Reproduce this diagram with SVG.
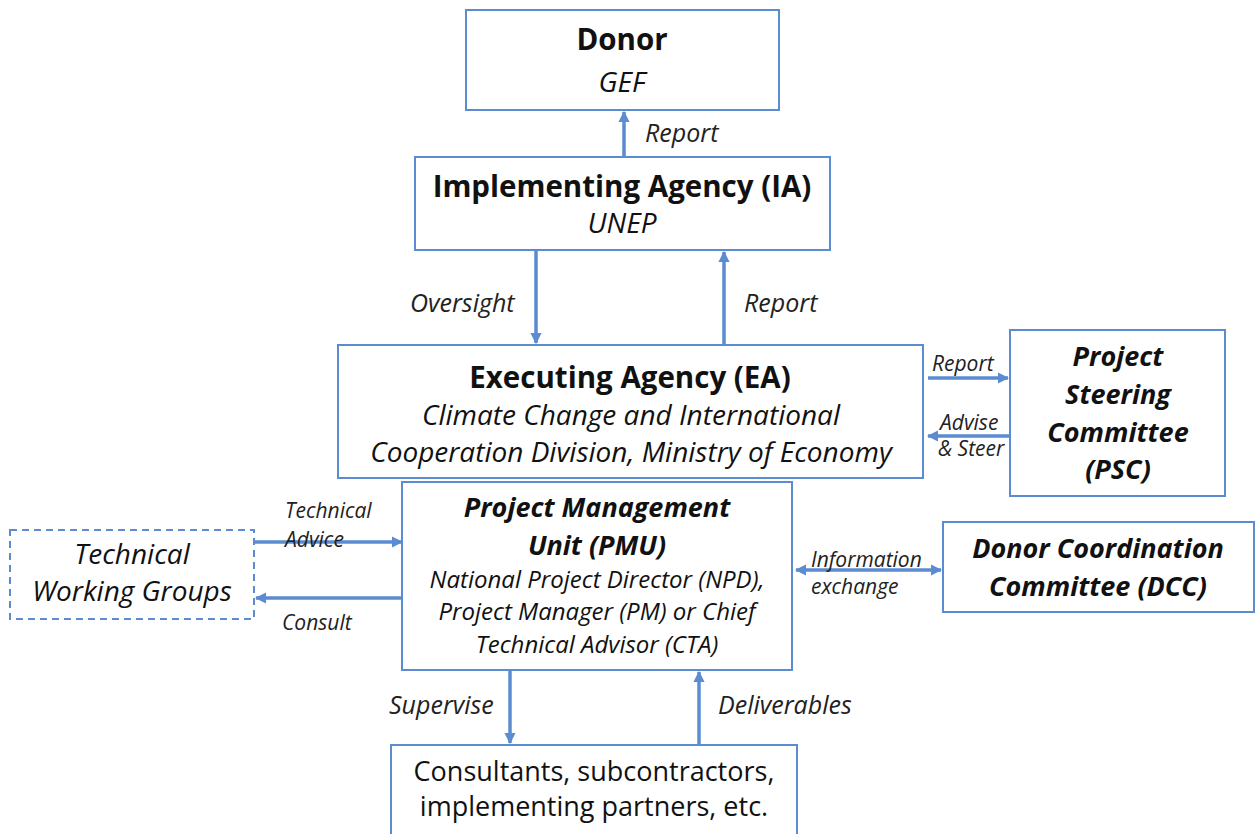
<svg xmlns="http://www.w3.org/2000/svg" width="1256" height="834" viewBox="0 0 1256 834">
  <defs>
    <style>
      .box { fill: #ffffff; stroke: #5b8bd0; stroke-width: 2; }
      .dash { fill: #ffffff; stroke: #5b8bd0; stroke-width: 2; stroke-dasharray: 7 5; }
      .conn { stroke: #5b8bd0; stroke-width: 3.5; fill: none; }
      text { font-family: "Open Sans", Lato, "Liberation Sans", sans-serif; fill: #111111; text-anchor: middle; }
      .t { font-weight: bold; font-size: 29.5px; }
      .bi { font-weight: bold; font-style: italic; font-size: 27px; }
      .i { font-style: italic; font-size: 28px; }
      .n { font-size: 27px; }
      .sub { font-style: italic; font-size: 24px; }
      .lbl { font-style: italic; font-size: 25px; fill: #222222; text-anchor: start; }
      .sl { font-style: italic; font-size: 21px; fill: #222222; text-anchor: start; }
    </style>
    <marker id="ah" viewBox="0 0 10 10" refX="9" refY="5" markerWidth="3.2" markerHeight="3.2" orient="auto-start-reverse">
      <path d="M0,0 L10,5 L0,10 z" fill="#5b8bd0"/>
    </marker>
  </defs>

  <!-- connectors and their labels -->
  <g id="connectors">
    <line class="conn" x1="624" y1="157" x2="624" y2="112" marker-end="url(#ah)"/>
    <line class="conn" x1="536" y1="250" x2="536" y2="343" marker-end="url(#ah)"/>
    <line class="conn" x1="724" y1="345" x2="724" y2="252" marker-end="url(#ah)"/>
    <line class="conn" x1="928" y1="378" x2="1008" y2="378" marker-end="url(#ah)"/>
    <line class="conn" x1="1012" y1="436" x2="928" y2="436" marker-end="url(#ah)"/>
    <line class="conn" x1="254" y1="542" x2="402" y2="542" marker-end="url(#ah)"/>
    <line class="conn" x1="404" y1="598" x2="256" y2="598" marker-end="url(#ah)"/>
    <line class="conn" x1="796" y1="570" x2="941" y2="570" marker-start="url(#ah)" marker-end="url(#ah)"/>
    <line class="conn" x1="510" y1="670" x2="510" y2="743" marker-end="url(#ah)"/>
    <line class="conn" x1="699" y1="745" x2="699" y2="672" marker-end="url(#ah)"/>

    <text class="lbl" x="645" y="142">Report</text>
    <text class="lbl" x="410" y="312">Oversight</text>
    <text class="lbl" x="744" y="312">Report</text>
    <text class="sl" x="932" y="371">Report</text>
    <text class="sl" x="940" y="430">Advise</text>
    <text class="sl" x="938" y="456">&amp; Steer</text>
    <text class="sl" x="285" y="518">Technical</text>
    <text class="sl" x="285" y="547">Advice</text>
    <text class="sl" x="282" y="630">Consult</text>
    <text class="sl" x="811" y="567">Information</text>
    <text class="sl" x="811" y="594">exchange</text>
    <text class="lbl" x="389" y="714">Supervise</text>
    <text class="lbl" x="718" y="714">Deliverables</text>
  </g>

  <g id="donor">
    <rect class="box" x="466" y="10" width="313" height="100"/>
    <text class="t" x="622" y="50">Donor</text>
    <text class="i" x="622" y="92">GEF</text>
  </g>

  <g id="ia">
    <rect class="box" x="415" y="157" width="415" height="93"/>
    <text class="t" x="622" y="197">Implementing Agency (IA)</text>
    <text class="i" x="622" y="233">UNEP</text>
  </g>

  <g id="ea">
    <rect class="box" x="338" y="345" width="585" height="133"/>
    <text class="t" x="630" y="388">Executing Agency (EA)</text>
    <text class="i" x="631" y="425">Climate Change and International</text>
    <text class="i" x="631" y="462">Cooperation Division, Ministry of Economy</text>
  </g>

  <g id="psc">
    <rect class="box" x="1010" y="330" width="215" height="166"/>
    <text class="bi" x="1118" y="366">Project</text>
    <text class="bi" x="1118" y="404">Steering</text>
    <text class="bi" x="1118" y="442">Committee</text>
    <text class="bi" x="1118" y="479">(PSC)</text>
  </g>

  <g id="pmu">
    <rect class="box" x="402" y="482" width="390" height="188"/>
    <text class="bi" x="597" y="517">Project Management</text>
    <text class="bi" x="597" y="555">Unit (PMU)</text>
    <text class="sub" x="597" y="588">National Project Director (NPD),</text>
    <text class="sub" x="597" y="620">Project Manager (PM) or Chief</text>
    <text class="sub" x="597" y="653">Technical Advisor (CTA)</text>
  </g>

  <g id="twg">
    <rect class="dash" x="10" y="530" width="244" height="89"/>
    <text class="i" x="132" y="564">Technical</text>
    <text class="i" x="132" y="601">Working Groups</text>
  </g>

  <g id="dcc">
    <rect class="box" x="943" y="522" width="311" height="90"/>
    <text class="bi" x="1098" y="558">Donor Coordination</text>
    <text class="bi" x="1098" y="596">Committee (DCC)</text>
  </g>

  <g id="partners">
    <rect class="box" x="391" y="745" width="406" height="95"/>
    <text class="n" x="594" y="781">Consultants, subcontractors,</text>
    <text class="n" x="594" y="816">implementing partners, etc.</text>
  </g>
</svg>
